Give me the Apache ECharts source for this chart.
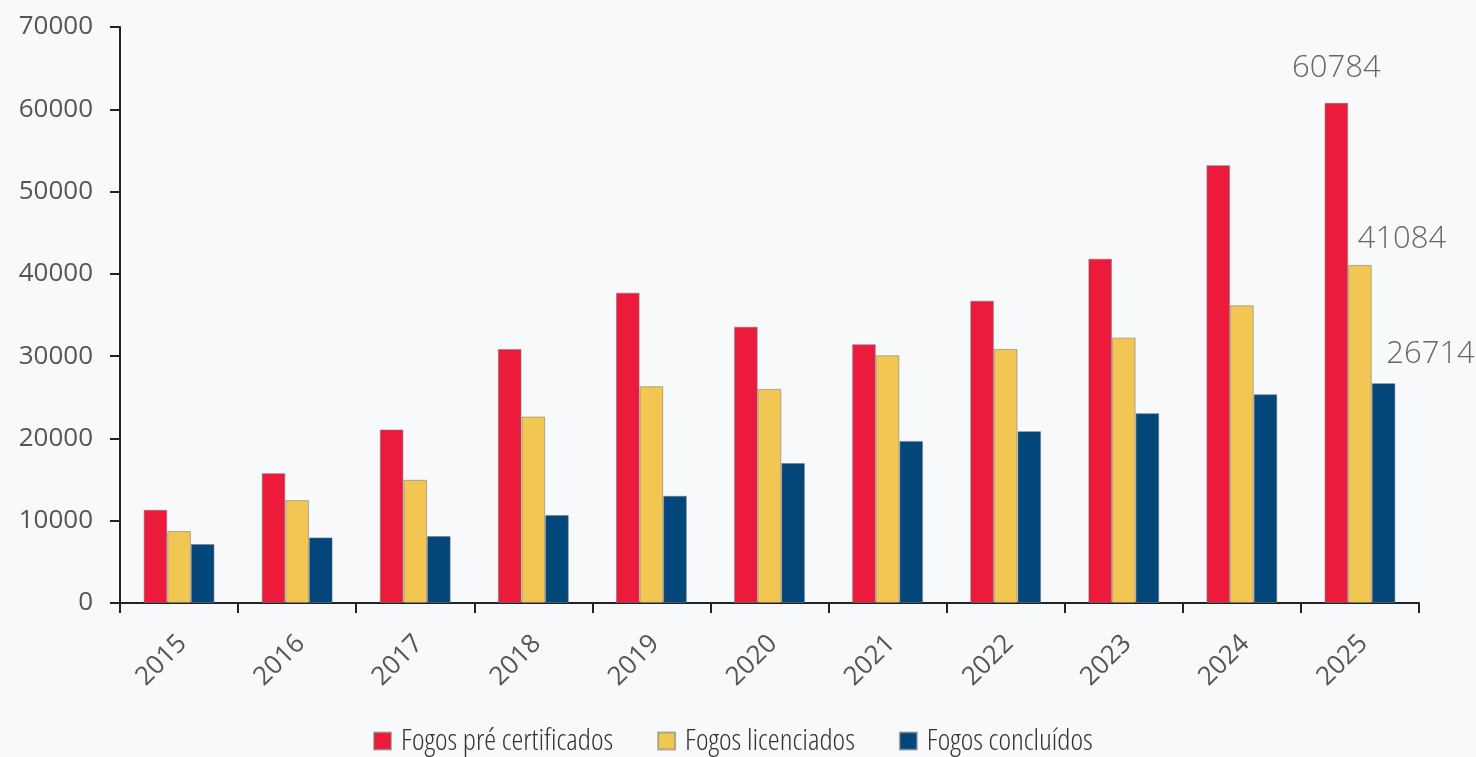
<!DOCTYPE html>
<html>
<head>
<meta charset="utf-8">
<script src="https://cdn.jsdelivr.net/npm/echarts@6/dist/echarts.min.js"></script>
<style>
  html, body { margin: 0; padding: 0; background: #f8f9fb; }
  #chart { width: 1476px; height: 757px; }
</style>
</head>
<body>
<div id="chart"></div>
<script>
// Years on the category axis
const years = ['2015', '2016', '2017', '2018', '2019', '2020', '2021', '2022', '2023', '2024', '2025'];

// Dwellings per year, by stage
const preCertificados = [11330, 15780, 21080, 30870, 37710, 33580, 31440, 36740, 41840, 53210, 60784];
const licenciados     = [8740, 12500, 14970, 22650, 26340, 26020, 30110, 30870, 32250, 36180, 41084];
const concluidos      = [7160, 7970, 8130, 10680, 13030, 17000, 19700, 20880, 23070, 25370, 26714];

const seriesNames = ['Fogos pré certificados', 'Fogos licenciados', 'Fogos concluídos'];
const seriesColors = ['#ed1b3b', '#f2c652', '#02467a'];

// Only the latest year carries a value label; each is nudged to sit clear of its neighbours
const lastLabel = [
  { offset: [0, 0], distance: 19 },
  { offset: [42, 0], distance: 10 },
  { offset: [47, 0], distance: 14 }
];

function withLastLabel(values, idx) {
  return values.map((v, i) => {
    if (i !== values.length - 1) return v;
    return {
      value: v,
      label: {
        show: true,
        position: 'top',
        distance: lastLabel[idx].distance,
        offset: lastLabel[idx].offset,
        fontFamily: 'Open Sans',
        fontWeight: 300,
        fontSize: 31,
        color: '#666'
      }
    };
  });
}

const chart = echarts.init(document.getElementById('chart'), null, { renderer: 'canvas' });

chart.setOption({
  backgroundColor: '#f8f9fb',
  animation: false,
  grid: { left: 120, right: 57, top: 27, bottom: 154, containLabel: false },
  legend: {
    left: 373,
    top: 726,
    padding: 0,
    itemWidth: 17,
    itemHeight: 17,
    itemGap: 44,
    icon: 'rect',
    data: seriesNames,
    textStyle: {
      fontFamily: 'Open Sans',
      fontWeight: '300 condensed',
      fontSize: 30,
      lineHeight: 30,
      color: '#333',
      padding: [0, 0, 0, 5]
    }
  },
  xAxis: {
    type: 'category',
    data: years,
    boundaryGap: true,
    axisLine: { lineStyle: { color: '#222', width: 2 } },
    axisTick: { show: true, length: 10, alignWithLabel: false, lineStyle: { color: '#222', width: 2 } },
    axisLabel: {
      rotate: 45,
      margin: 33,
      interval: 0,
      verticalAlign: 'top',
      fontFamily: 'Open Sans',
      fontSize: 26,
      lineHeight: 10,
      color: '#555'
    }
  },
  yAxis: {
    type: 'value',
    min: 0,
    max: 70000,
    interval: 10000,
    splitLine: { show: false },
    axisLine: { show: true, lineStyle: { color: '#222', width: 2 } },
    axisTick: { show: true, length: 10, lineStyle: { color: '#222', width: 2 } },
    axisLabel: {
      margin: 27,
      formatter: (v) => String(v),
      fontFamily: 'Open Sans',
      fontSize: 26,
      color: '#555'
    }
  },
  series: [preCertificados, licenciados, concluidos].map((vals, idx) => ({
    name: seriesNames[idx],
    type: 'bar',
    barGap: '0%',
    barCategoryGap: '40%',
    itemStyle: {
      color: seriesColors[idx],
      borderColor: 'rgba(120,120,120,0.55)',
      borderWidth: 1
    },
    data: withLastLabel(vals, idx)
  }))
});
</script>
</body>
</html>
